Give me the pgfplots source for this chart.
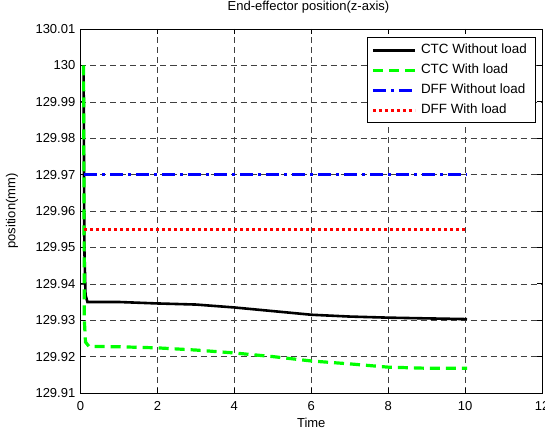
\documentclass[border=0pt]{standalone}
\usepackage{fontspec}
\setmainfont{Liberation Sans}
\usepackage{pgfplots}
\pgfplotsset{compat=1.18}
\definecolor{mgreen}{rgb}{0,1,0}
\begin{document}
\fontsize{13bp}{15bp}\selectfont
\begin{tikzpicture}
\begin{axis}[
  scale only axis,
  width=461.5bp, height=364bp,
  xmin=0, xmax=12,
  ymin=129.91, ymax=130.01,
  xtick={0,2,4,6,8,10,12},
  ytick={129.91,129.92,129.93,129.94,129.95,129.96,129.97,129.98,129.99,130,130.01},
  yticklabels={129.91,129.92,129.93,129.94,129.95,129.96,129.97,129.98,129.99,130,130.01},
  /pgf/number format/assume math mode=true,
  tick align=inside,
  major tick length=5bp,
  tick style={black, line width=0.6bp},
  axis line style={black, line width=0.8bp},
  grid=major,
  major grid style={black!75, line width=0.5bp, dash pattern=on 6bp off 4bp},
  xticklabel style={inner sep=0pt, yshift=-8.5bp},
  yticklabel style={inner sep=0pt, xshift=-5bp},
  title={End-effector position(z-axis)},
  title style={at={(axis description cs:0.494,1.044)}, anchor=center, inner sep=0pt},
  xlabel={Time},
  xlabel style={at={(axis description cs:0.5,-0.0824)}, anchor=center, inner sep=0pt},
  ylabel={position(mm)},
  ylabel style={at={(axis description cs:-0.1484,0.5)}, anchor=center, inner sep=0pt},
  legend style={at={(axis description cs:0.9863,0.977)}, anchor=north east,
    draw=black, line width=0.8bp, inner xsep=4bp, inner ysep=4bp, row sep=3bp,
    font=\fontsize{13.4bp}{15bp}\selectfont,
    nodes={text height=10bp, text depth=3bp, inner ysep=2bp, inner xsep=4.5bp}},
  legend cell align=left,
  legend image code/.code={\draw[#1] (0bp,0bp) -- (42bp,0bp);},
  clip=false,
]
\coordinate (SW) at (rel axis cs:0,0);
\coordinate (NE) at (rel axis cs:1,1);
\addplot[black, line width=2.6bp] coordinates {
 (0.08,130) (0.1,129.95) (0.13,129.937) (0.18,129.935) (1,129.935) (2,129.9346) (3,129.9343) (4,129.9335) (5,129.9325) (6,129.9315) (7,129.931) (8,129.9307) (9,129.9305) (10.05,129.9303)};
\addlegendentry{CTC Without load}
\addplot[mgreen, line width=3.2bp, dash pattern=on 10bp off 6bp] coordinates {
 (0.08,130) (0.1,129.93) (0.13,129.924) (0.22,129.9228) (1,129.9227) (2,129.9224) (3,129.9218) (4,129.921) (5,129.92) (6,129.9188) (7,129.918) (8,129.9171) (9,129.9168) (10.05,129.9168)};
\addlegendentry{CTC With load}
\addplot[blue, line width=3bp, dash pattern=on 13bp off 5bp on 3bp off 5bp] coordinates {
 (0.1,129.97) (10.05,129.97)};
\addlegendentry{DFF Without load}
\addplot[red, line width=3bp, dash pattern=on 3bp off 3bp] coordinates {
 (0.1,129.955) (10.05,129.955)};
\addlegendentry{DFF With load}
\end{axis}
\pgfresetboundingbox
\useasboundingbox ([xshift=-80.5bp,yshift=-39bp]SW) rectangle ([xshift=3bp,yshift=29bp]NE);
\end{tikzpicture}
\end{document}
